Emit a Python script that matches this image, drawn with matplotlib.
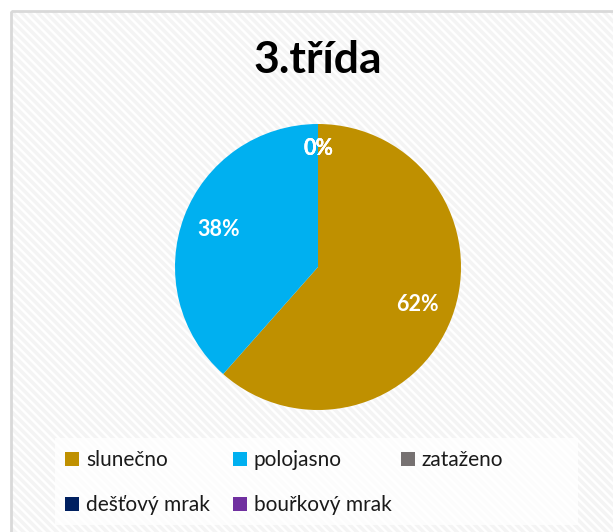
import matplotlib
matplotlib.use('Agg')
import matplotlib.pyplot as plt
from matplotlib.patches import Rectangle, Patch

title = "3.třída"
categories = ["slunečno", "polojasno", "zataženo", "dešťový mrak", "bouřkový mrak"]
values = [8, 5, 0, 0, 0]
colors = ["#BF9000", "#00B0F0", "#767171", "#002060", "#7030A0"]

W, H = 613, 532
plt.rcParams['font.family'] = ['Lato', 'DejaVu Sans']
plt.rcParams['hatch.linewidth'] = 2.5

fig = plt.figure(figsize=(W / 100, H / 100), dpi=100)
fig.patch.set_facecolor('white')

# background with diagonal texture and frame
bg = fig.add_axes([0, 0, 1, 1])
bg.set_xlim(0, W)
bg.set_ylim(H, 0)
bg.axis('off')
bg.add_patch(Rectangle((11, 11), W, H, facecolor='white', edgecolor='#F4F4F4',
                       hatch='\\\\\\\\', lw=0))
bg.add_patch(Rectangle((11, 11), W, H, facecolor='none', edgecolor='#D9D9D9', lw=2))
# legend area background
bg.add_patch(Rectangle((55, 438), 523, 87, facecolor='white', alpha=0.8, lw=0))

# title
fig.text(318 / W, 1 - 60 / H, title, ha='center', va='center',
         fontsize=32, fontweight='bold', color='black')

# pie
cx, cy, r = 318, 267, 143
ax = fig.add_axes([(cx - r) / W, 1 - (cy + r) / H, 2 * r / W, 2 * r / H])
wedges, texts, autotexts = ax.pie(values, colors=colors, startangle=90, counterclock=False,
                                  autopct='%.0f%%', pctdistance=0.74,
                                  wedgeprops=dict(linewidth=0),
                                  textprops=dict(color='white', fontsize=15.5, fontweight='bold'))
for w, t, v in zip(wedges, autotexts, values):
    if v == 0:
        w.set_visible(False)
        x, y = t.get_position()
        t.set_position((x * 0.83 / 0.74, y * 0.83 / 0.74))
ax.set_xlim(-1, 1)
ax.set_ylim(-1, 1)
ax.set_aspect('equal')
ax.axis('off')

# legend, three equal-width columns, row-major order
handles = [Patch(facecolor=c, edgecolor='none') for c in colors]
col_x = [65, 233, 401]
ncol = 3
for k in range(ncol):
    idx = list(range(k, len(categories), ncol))
    leg = fig.legend([handles[i] for i in idx], [categories[i] for i in idx],
                     loc='upper left', bbox_to_anchor=(col_x[k] / W, 1 - 450 / H),
                     frameon=False, fontsize=15, handlelength=0.65, handleheight=0.65,
                     handletextpad=0.35, labelspacing=1.2, borderpad=0, borderaxespad=0)
    for txt in leg.get_texts():
        txt.set_color('#1a1a1a')

fig.savefig('out.png', dpi=100)
